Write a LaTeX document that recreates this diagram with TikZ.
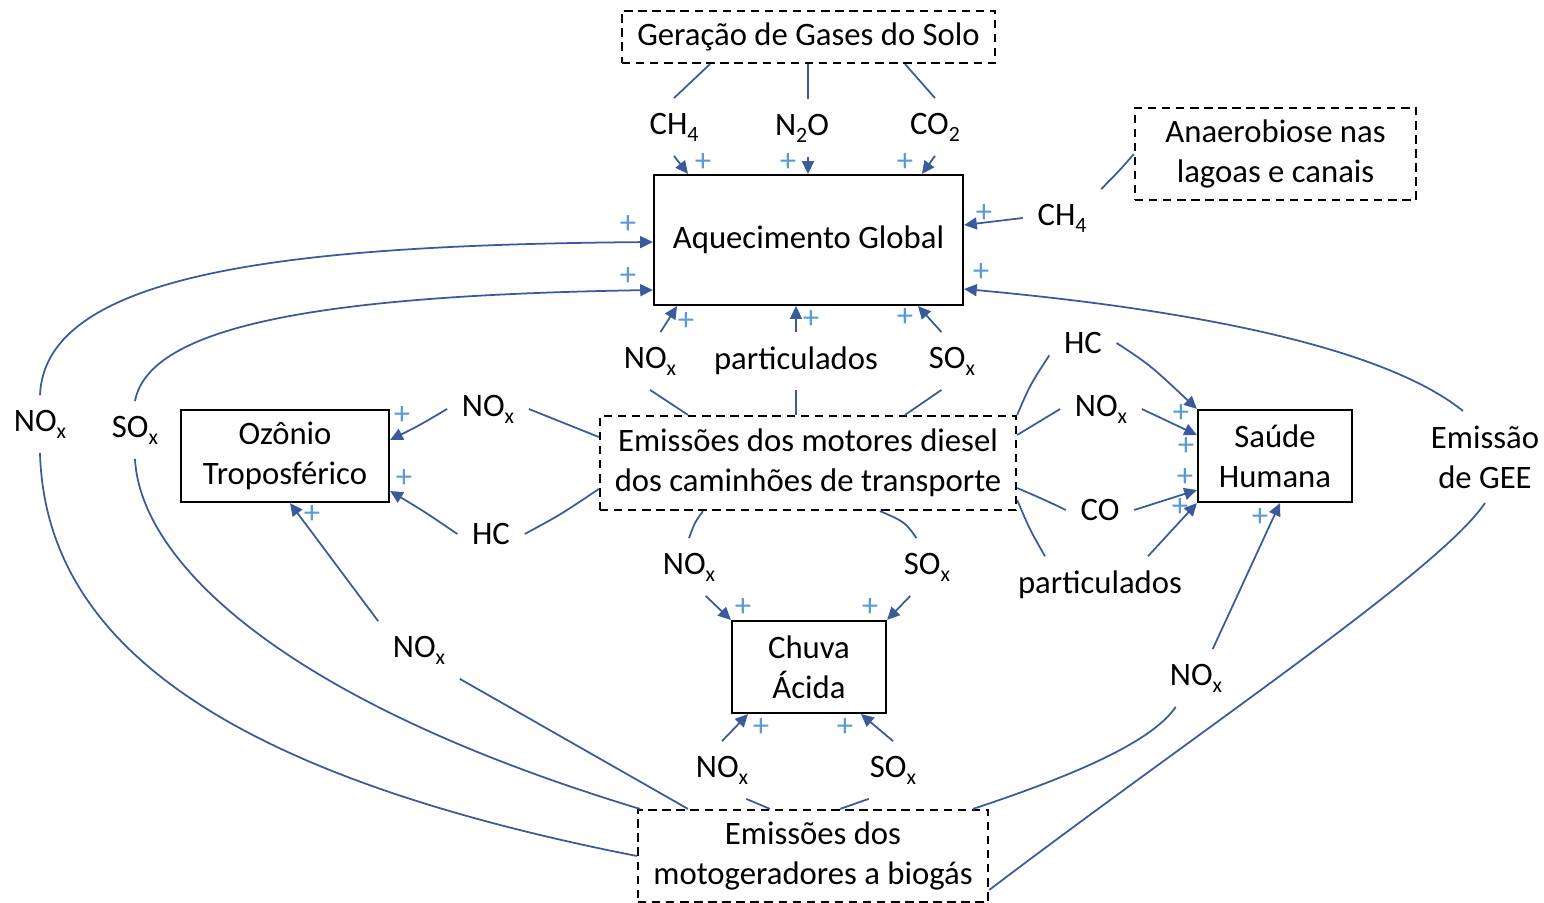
\documentclass[tikz,border=0pt]{standalone}
\usepackage{fontspec}
\setmainfont{Carlito}
\usetikzlibrary{arrows.meta}
\newcommand{\lowsub}[1]{\raisebox{-2pt}{\fontsize{6.2}{6.2}\selectfont #1}}

\begin{document}
\begin{tikzpicture}[x=0.01cm,y=-0.01cm,font=\fontsize{9.3}{11.3}\selectfont,
  box/.style={draw=black,line width=0.6pt,align=center,inner sep=0pt},
  dbox/.style={box,dash pattern=on 2.4pt off 1.6pt},
  lab/.style={inner sep=4pt,align=center},
  link/.style={draw=linkBlue,line width=0.5pt},
  arr/.style={link,-{Triangle[length=3.6pt,width=3.4pt]}},
  plus/.style={text=plusBlue,inner sep=0pt}]
\definecolor{linkBlue}{HTML}{3A5A9C}
\definecolor{plusBlue}{HTML}{5B9BD5}
\useasboundingbox (0,0) rectangle (1544,903);
% boxes
\node[dbox,minimum width=3.73cm,minimum height=0.52cm] (solo) at (808.5,37) {Geração de Gases do Solo};
\node[box,minimum width=3.09cm,minimum height=1.30cm] (ag) at (808.5,240) {Aquecimento Global};
\node[dbox,minimum width=2.81cm,minimum height=0.92cm] (anaer) at (1275.5,154) {Anaerobiose nas\\lagoas e canais};
\node[box,minimum width=2.08cm,minimum height=0.92cm] (ozonio) at (285,456) {Ozônio\\Troposférico};
\node[dbox,minimum width=4.16cm,minimum height=0.94cm] (diesel) at (808,463) {Emissões dos motores diesel\\dos caminhões de transporte};
\node[box,minimum width=1.54cm,minimum height=0.92cm] (saude) at (1275,456) {Saúde\\Humana};
\node[box,minimum width=1.54cm,minimum height=0.92cm] (chuva) at (809,667) {Chuva\\Ácida};
\node[dbox,minimum width=3.50cm,minimum height=0.92cm] (biogas) at (813,856) {Emissões dos\\motogeradores a biogás};
% labels
\node[lab] (ch4s) at (674,127) {CH\lowsub{4}};
\node[lab] (n2os) at (802,128) {N\lowsub{2}O};
\node[lab] (co2s) at (935,127) {CO\lowsub{2}};
\node[lab] (ch4a) at (1062,218) {CH\lowsub{4}};
\node[lab] (noxa) at (650,361) {NO\lowsub{x}};
\node[lab] (parta) at (796,361) {particulados};
\node[lab] (soxa) at (952,361) {SO\lowsub{x}};
\node[lab] (noxl) at (40,424) {NO\lowsub{x}};
\node[lab] (soxl) at (135,430) {SO\lowsub{x}};
\node[lab] (noxm) at (488,409) {NO\lowsub{x}};
\node[lab] (hcm) at (491,534) {HC};
\node[lab] (hcr) at (1083,343) {HC};
\node[lab] (noxr) at (1101,409) {NO\lowsub{x}};
\node[lab] (cor) at (1100,510) {CO};
\node[lab] (partr) at (1100,585) {particulados};
\node[lab] (gee) at (1485,457) {Emissão\\de GEE};
\node[lab] (noxc) at (689,567) {NO\lowsub{x}};
\node[lab] (soxc) at (927,567) {SO\lowsub{x}};
\node[lab] (noxo) at (419,650) {NO\lowsub{x}};
\node[lab] (noxb) at (1196,678) {NO\lowsub{x}};
\node[lab] (noxd) at (722,770) {NO\lowsub{x}};
\node[lab] (soxd) at (893,770) {SO\lowsub{x}};
% soil gases
\draw[link] (710,0 |- solo.south) -- (ch4s.north);
\draw[link] (808,0 |- solo.south) -- (808,0 |- n2os.north);
\draw[link] (905,0 |- solo.south) -- (co2s.north);
\draw[arr] (ch4s.south) -- (688,0 |- ag.north);
\draw[arr] (808,0 |- n2os.south) -- (808,0 |- ag.north);
\draw[arr] (co2s.south) -- (922,0 |- ag.north);
\draw[link] (anaer.west) .. controls (1120,170) .. (ch4a.north east);
\draw[arr] (ch4a.west) -- (ag.east |- 0,225);
% diesel to global warming
\draw[link] (688,0 |- diesel.north) -- (noxa.south);
\draw[arr] (noxa.70) -- (677,0 |- ag.south);
\draw[link] (796,0 |- diesel.north) -- (parta.south);
\draw[arr] (parta.north) -- (796,0 |- ag.south);
\draw[link] (905,0 |- diesel.north) -- (soxa.250);
\draw[arr] (soxa.110) -- (918,0 |- ag.south);
% biogas to global warming
\draw[arr] (noxl.north) .. controls (45,270) and (300,245) .. (ag.west |- 0,242);
\draw[arr] (soxl.north) .. controls (150,320) and (350,295) .. (ag.west |- 0,290);
\draw[link] (noxl.south) .. controls (45,630) and (200,770) .. (biogas.west |- 0,856);
\draw[link] (soxl.south) .. controls (140,560) and (280,700) .. (640,0 |- biogas.north);
\draw[arr] (1463,0 |- gee.north) .. controls (1400,360) and (1250,315) .. (ag.east |- 0,289);
\draw[link] (gee.south) .. controls (1440,570) and (1200,730) .. (biogas.east |- 0,890);
% tropospheric ozone
\draw[link] (diesel.west |- 0,437) -- (noxm.east);
\draw[arr] (noxm.west) .. controls (420,425) .. (ozonio.east |- 0,440);
\draw[link] (diesel.west |- 0,489) .. controls (560,515) .. (hcm.east);
\draw[arr] (hcm.west) .. controls (425,512) .. (ozonio.east |- 0,491);
\draw[link] (noxo.south east) -- (688,0 |- biogas.north);
\draw[arr] (noxo.north west) .. controls (340,570) .. (290,0 |- ozonio.south);
% human health
\draw[link] (diesel.north east) .. controls (1030,385) .. (hcr.200);
\draw[arr] (hcr.east) .. controls (1150,365) .. (saude.north west);
\draw[link] (diesel.east |- 0,435) -- (noxr.west);
\draw[arr] (noxr.east) -- (saude.west |- 0,435);
\draw[link] (diesel.east |- 0,488) .. controls (1045,500) .. (cor.west);
\draw[arr] (cor.east) -- (saude.west |- 0,490);
\draw[link] (diesel.east |- 0,500) .. controls (1030,530) .. (1045,0 |- partr.north);
\draw[arr] (1148,0 |- partr.north) -- (saude.south west);
\draw[arr] (noxb.60) -- (1280,0 |- saude.south);
\draw[link] (noxb.235) .. controls (1150,745) and (1060,780) .. (973,0 |- biogas.north);
% acid rain
\draw[link] (703,0 |- diesel.south) .. controls (695,522) .. (noxc.north);
\draw[arr] (noxc.-60) -- (chuva.north west);
\draw[link] (880,0 |- diesel.south) .. controls (905,522) .. (soxc.110);
\draw[arr] (soxc.-120) -- (chuva.north east);
\draw[arr] (noxd.north) -- (748,0 |- chuva.south);
\draw[link] (noxd.-50) -- (770,0 |- biogas.north);
\draw[arr] (soxd.north) -- (861,0 |- chuva.south);
\draw[link] (soxd.-130) -- (840,0 |- biogas.north);
% plus signs
\foreach \px/\py in {703/163,788/163,905/163,984/214,981/273,628/225,628/277,
  686/322,811/320,905/318,402/416,404/479,312/515,1181/414,1186/447,1185/478,
  1180/508,1260/518,743/608,870/608,761/728,845/728} {
  \node[plus] at (\px,\py) {+};
}
\end{tikzpicture}
\end{document}
